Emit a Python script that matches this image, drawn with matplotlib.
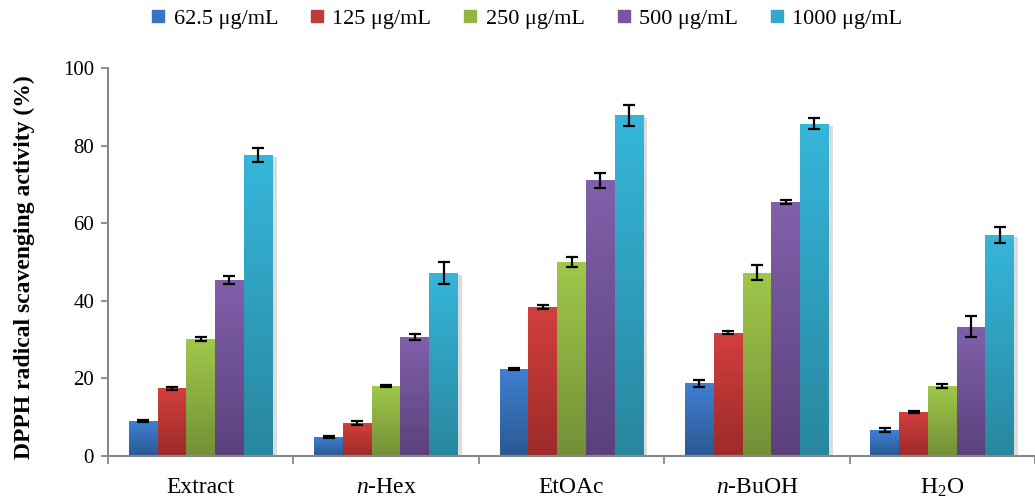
import matplotlib
matplotlib.use("Agg")
import matplotlib.pyplot as plt
import numpy as np
from matplotlib.lines import Line2D
from matplotlib.colors import to_rgb

categories = ["Extract", "$n$-Hex", "EtOAc", "$n$-BuOH", "H$_2$O"]
series_labels = ["62.5 μg/mL", "125 μg/mL", "250 μg/mL", "500 μg/mL", "1000 μg/mL"]
v_625 = [9.0, 4.9, 22.5, 18.7, 6.7]
v_125 = [17.4, 8.5, 38.3, 31.8, 11.3]
v_250 = [30.1, 18.0, 50.1, 47.2, 18.0]
v_500 = [45.4, 30.7, 71.1, 65.4, 33.3]
v_1000 = [77.6, 47.2, 87.8, 85.6, 57.0]
e_625 = [0.2, 0.3, 0.3, 0.9, 0.5]
e_125 = [0.3, 0.6, 0.5, 0.3, 0.3]
e_250 = [0.5, 0.3, 1.3, 1.9, 0.5]
e_500 = [1.1, 0.8, 1.9, 0.5, 2.7]
e_1000 = [1.8, 2.8, 2.7, 1.4, 2.1]

values = [v_625, v_125, v_250, v_500, v_1000]
errors = [e_625, e_125, e_250, e_500, e_1000]
top_colors = ["#3f80d2", "#d23f3d", "#9fc84a", "#8160aa", "#36b6da"]
bot_colors = ["#2b5893", "#9d2b2a", "#748f37", "#5b417c", "#28879f"]
legend_colors = ["#3a74c0", "#c03a38", "#90b540", "#7656a0", "#32a8ca"]

plt.rcParams['font.family'] = ['Liberation Serif', 'DejaVu Serif']
plt.rcParams['mathtext.fontset'] = 'custom'
plt.rcParams['mathtext.rm'] = 'Liberation Serif'
plt.rcParams['mathtext.it'] = 'Liberation Serif:italic'
plt.rcParams['mathtext.bf'] = 'Liberation Serif:bold'

fig = plt.figure(figsize=(10.35, 5.0), dpi=100)
ax = fig.add_axes([108/1035, 44/500, 927/1035, 388/500])

x = np.arange(len(categories))
w = 0.155
offsets = (np.arange(5) - 2) * w

for i in range(5):
    xs = x + offsets[i]
    ax.bar(xs + 0.022, np.array(values[i]) - 0.6, width=w, color="#dcdcdc", zorder=1, linewidth=0)
for i in range(5):
    xs = x + offsets[i]
    bars = ax.bar(xs, values[i], width=w, color=top_colors[i], zorder=2, linewidth=0)
    c1 = np.array(to_rgb(top_colors[i])); c2 = np.array(to_rgb(bot_colors[i]))
    t = np.linspace(0, 1, 64)[:, None]
    grad = (c1[None, :] * (1 - t) + c2[None, :] * t)[:, None, :]
    for b in bars:
        x0 = b.get_x(); h = b.get_height()
        im = ax.imshow(grad, extent=[x0, x0 + w, 0, h], aspect='auto', zorder=2.5,
                       origin='upper', interpolation='bilinear')
        im.set_clip_path(b)
    ax.errorbar(xs, values[i], yerr=errors[i], fmt='none', ecolor='black',
                elinewidth=1.6, capsize=4.5, capthick=1.6, zorder=4)

ax.set_xlim(-0.5, -0.5 + 927/187)
ax.set_ylim(0, 100)
ax.set_yticks([0, 20, 40, 60, 80, 100])
ax.set_xticks(x)
ax.set_xticklabels(categories)
ax.set_xticks(np.arange(-0.5, 5, 1.0), minor=True)
ax.tick_params(axis='x', which='major', length=0, pad=15, labelsize=17)
ax.tick_params(axis='x', which='minor', length=6, width=1.3, color='#888888', direction='out')
ax.tick_params(axis='y', length=5, width=1.3, color='#888888', labelsize=15, pad=5)
for s in ['top', 'right']:
    ax.spines[s].set_visible(False)
for s in ['left', 'bottom']:
    ax.spines[s].set_color('#888888')
    ax.spines[s].set_linewidth(1.5)
ax.set_ylabel("DPPH radical scavenging activity (%)", fontsize=17, fontweight='bold')
ax.yaxis.set_label_coords((35 - 108) / 927, 0.486)

handles = [Line2D([0], [0], marker='s', linestyle='none', markersize=8,
                  markerfacecolor=c, markeredgecolor=c) for c in legend_colors]
fig.legend(handles, series_labels, loc='center', bbox_to_anchor=(0.508, 0.962), ncol=5,
           frameon=False, fontsize=16, handlelength=0.8, handletextpad=0.3, columnspacing=1.35)

fig.savefig("out.png", dpi=100)
